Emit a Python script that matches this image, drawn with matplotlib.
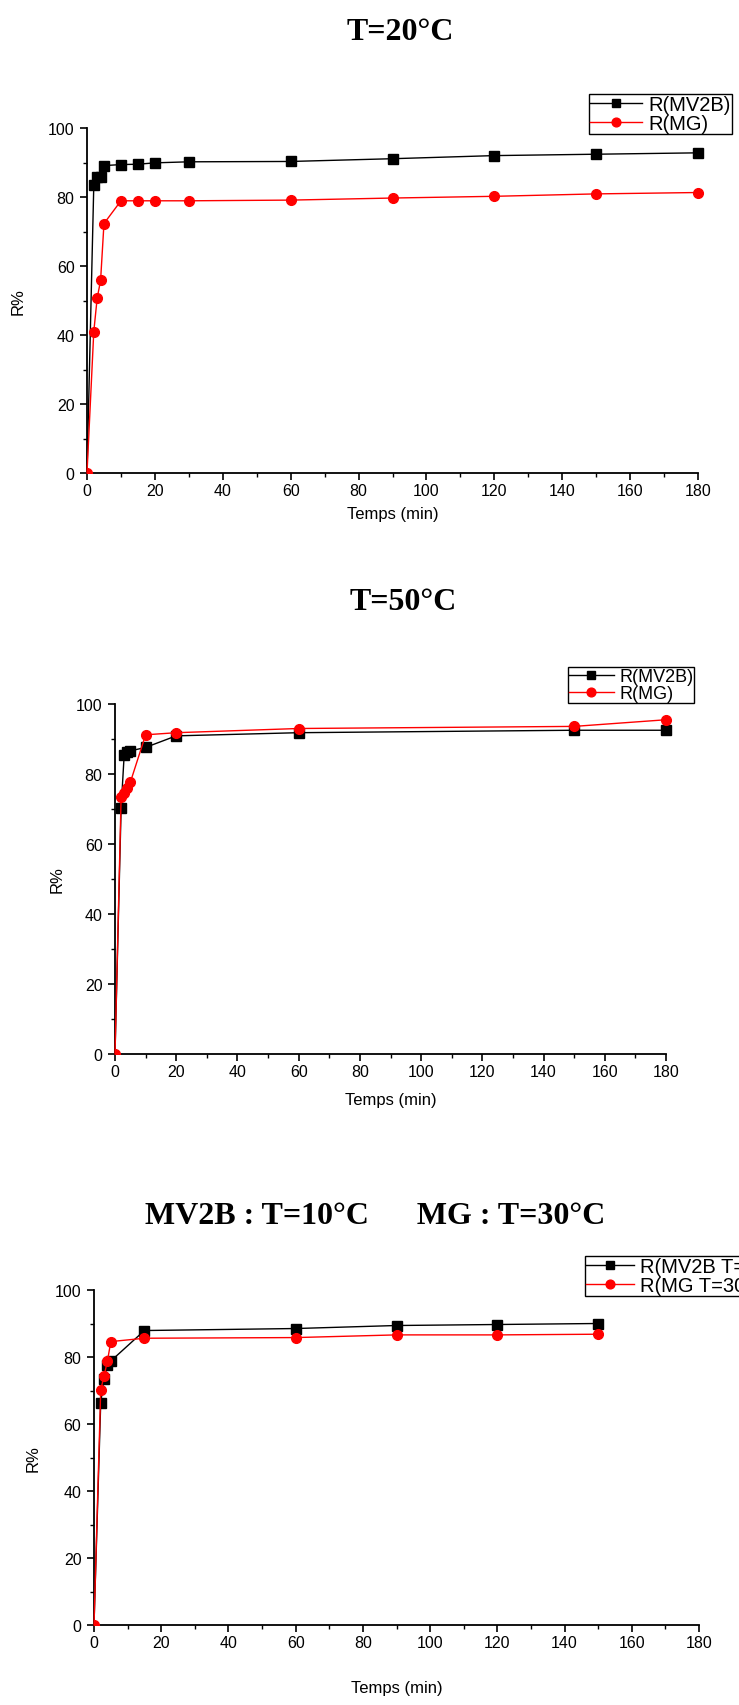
import numpy as np
import matplotlib.pyplot as plt
from matplotlib.ticker import MultipleLocator

plt.rcParams['font.family'] = ['Liberation Sans', 'DejaVu Sans']

# T=20°C
t1_mv2b = [0, 2, 3, 4, 5, 10, 15, 20, 30, 60, 90, 120, 150, 180]
r1_mv2b = [0, 83.4, 85.7, 85.9, 89.1, 89.4, 89.5, 89.9, 90.2, 90.3, 91.1, 92.0, 92.4, 92.8]
t1_mg = [0, 2, 3, 4, 5, 10, 15, 20, 30, 60, 90, 120, 150, 180]
r1_mg = [0, 41.0, 50.7, 55.8, 72.3, 78.9, 78.9, 78.9, 78.9, 79.1, 79.7, 80.2, 80.9, 81.3]

# T=50°C
t2_mv2b = [0, 2, 3, 4, 5, 10, 20, 60, 150, 180]
r2_mv2b = [0, 70.3, 85.5, 86.3, 86.6, 87.6, 90.9, 91.8, 92.5, 92.5]
t2_mg = [0, 2, 3, 4, 5, 10, 20, 60, 150, 180]
r2_mg = [0, 73.5, 74.6, 76.0, 77.6, 91.2, 91.8, 93.0, 93.6, 95.5]

# MV2B : T=10°C, MG : T=30°C
t3_mv2b = [0, 2, 3, 4, 5, 15, 60, 90, 120, 150]
r3_mv2b = [0, 66.4, 73.4, 77.7, 78.8, 87.9, 88.5, 89.4, 89.7, 90.0]
t3_mg = [0, 2, 3, 4, 5, 15, 60, 90, 120, 150]
r3_mg = [0, 70.2, 74.4, 78.8, 84.6, 85.6, 85.8, 86.6, 86.6, 86.8]

W, H = 739, 1706
fig = plt.figure(figsize=(W / 100, H / 100), dpi=100)


def px_axes(left, right, top, bottom):
    return fig.add_axes([left / W, 1 - bottom / H, (right - left) / W, (bottom - top) / H])


def draw(ax, tm, rm, tg, rg, labels, leg_box, leg_fs, ylab_x, xlab_y, title, title_xy):
    # point at t=0 is clipped by the frame, the others are not
    ax.plot(tm, rm, color='black', lw=1, marker='s', ms=6.5, markevery=list(range(1, len(tm))),
            label=labels[0], clip_on=False, zorder=3)
    ax.plot(tg, rg, color='red', lw=1, marker='o', ms=7, markevery=list(range(1, len(tg))),
            label=labels[1], clip_on=False, zorder=4)
    ax.plot(tg[:1], rg[:1], color='red', marker='o', ms=7, ls='none', zorder=4)
    ax.set_xlim(0, 180)
    ax.set_ylim(0, 100)
    ax.xaxis.set_major_locator(MultipleLocator(20))
    ax.xaxis.set_minor_locator(MultipleLocator(10))
    ax.yaxis.set_major_locator(MultipleLocator(20))
    ax.yaxis.set_minor_locator(MultipleLocator(10))
    for s in ['top', 'right']:
        ax.spines[s].set_visible(False)
    for s in ['left', 'bottom']:
        ax.spines[s].set_linewidth(1.3)
    ax.tick_params(which='major', direction='out', length=5, width=1.2, labelsize=11.5, pad=2.5)
    ax.tick_params(axis='y', which='major', pad=4)
    ax.tick_params(which='minor', direction='out', length=3, width=1.0)
    ax.set_xlabel('Temps (min)', fontsize=12)
    ax.xaxis.set_label_coords(ax.get_position().x0 + ax.get_position().width / 2, 1 - xlab_y / H,
                              transform=fig.transFigure)
    ax.xaxis.label.set_va('center')
    ax.set_ylabel('R%', fontsize=12)
    ax.yaxis.set_label_coords(ylab_x / W, ax.get_position().y0 + ax.get_position().height / 2,
                              transform=fig.transFigure)
    ax.yaxis.label.set_va('center')
    leg = ax.legend(loc='upper left', bbox_to_anchor=(leg_box[0] / W, 1 - leg_box[1] / H),
                    bbox_transform=fig.transFigure, fontsize=leg_fs, frameon=True, fancybox=False,
                    borderpad=0.05, labelspacing=0.0, handlelength=leg_box[2], handletextpad=0.3,
                    borderaxespad=0, markerscale=0.9, framealpha=1)
    leg.get_frame().set_edgecolor('black')
    leg.get_frame().set_linewidth(1.0)
    fig.text(title_xy[0] / W, 1 - title_xy[1] / H, title, ha='center', va='center',
             fontsize=23, fontweight='bold', family='Liberation Serif')


ax1 = px_axes(87, 698, 129, 474)
draw(ax1, t1_mv2b, r1_mv2b, t1_mg, r1_mg, ['R(MV2B)', 'R(MG)'], (589, 95, 2.6), 14.5, 18, 515,
     'T=20°C', (400, 32))

ax2 = px_axes(115, 666, 705, 1055)
draw(ax2, t2_mv2b, r2_mv2b, t2_mg, r2_mg, ['R(MV2B)', 'R(MG)'], (568, 668, 2.5), 13, 57, 1101,
     'T=50°C', (403, 603))

ax3 = px_axes(94, 699, 1291, 1626)
draw(ax3, t3_mv2b, r3_mv2b, t3_mg, r3_mg, ['R(MV2B T=10°C)', 'R(MG T=30°C)'], (585, 1257, 2.4), 14.5,
     33, 1689, 'MV2B : T=10°C      MG : T=30°C', (375, 1217))

fig.savefig('out.png', dpi=100)
